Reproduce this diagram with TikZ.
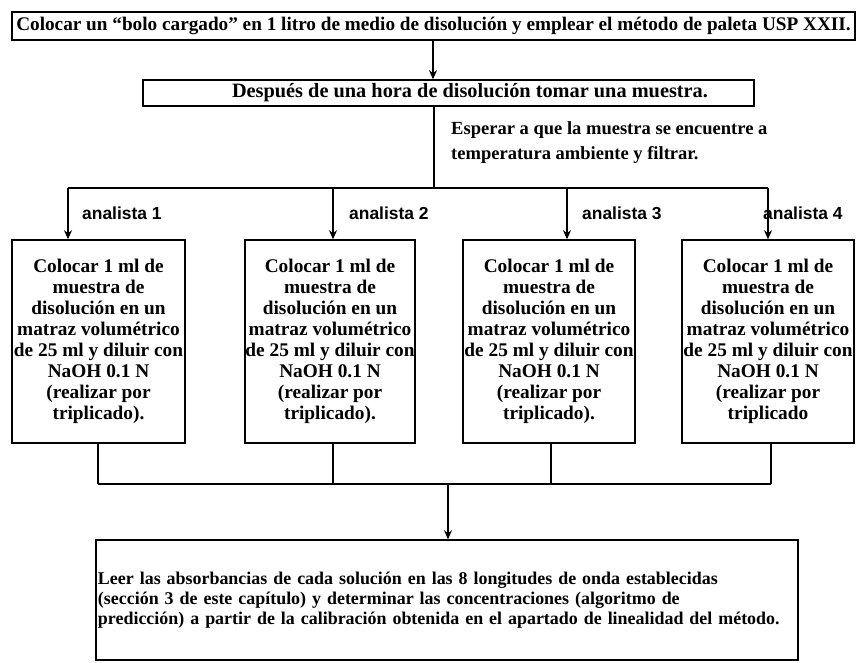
\documentclass[tikz,border=0pt]{standalone}
\usepackage{fontspec}
\setmainfont{Liberation Serif}
\newfontfamily\labsans{Liberation Sans}
\usetikzlibrary{arrows.meta}
\begin{document}
\begin{tikzpicture}[x=1bp,y=-1bp,
  box/.style={draw, line width=1.5bp, inner sep=0pt},
  stepbox/.style={box, font=\bfseries\fontsize{19.4}{21}\selectfont, minimum width=172bp, minimum height=203bp, align=center},
  conn/.style={line width=1.5bp},
  arr/.style={conn, -{Stealth[length=9bp,width=8bp]}},
  lab/.style={font=\labsans\bfseries\fontsize{17.5}{20}\selectfont, anchor=west, inner sep=0pt},
]
\useasboundingbox (0,0) rectangle (857,663);

\node[box, font=\bfseries\fontsize{19.3}{24}\selectfont, minimum width=843bp, minimum height=28bp] (top) at (433.5,26)
  {Colocar un “bolo cargado” en 1 litro de medio de disolución y emplear el método de paleta USP XXII.};
\node[box, font=\bfseries\fontsize{20.4}{24}\selectfont, minimum width=611bp, minimum height=26bp] (take) at (448.5,93)
  {\hspace*{43bp}Después de una hora de disolución tomar una muestra.};

\coordinate (a1) at (433,0);
\draw[arr] (top.south -| a1) -- (take.north -| a1);

\node[anchor=west, align=left, inner sep=0pt, font=\bfseries\fontsize{18.6}{25}\selectfont] (wait) at (451,143)
  {Esperar a que la muestra se encuentre a\\temperatura ambiente y filtrar.};

\coordinate (split) at (434,188);
\coordinate (t1) at (68,188);
\coordinate (t2) at (333,188);
\coordinate (t3) at (567,188);
\coordinate (t4) at (768,188);
\draw[conn] (split |- take.south) -- (split);
\draw[conn] (t1) -- (t4);

\node[lab] (l1) at (82,213) {analista 1};
\node[lab] (l2) at (349,213) {analista 2};
\node[lab] (l3) at (582,213) {analista 3};
\node[lab] (l4) at (763,213) {analista 4};

\node[stepbox, minimum width=173bp] (b1) at (98.5,341.5)
  {Colocar 1 ml de\\muestra de\\disolución en un\\matraz volumétrico\\de 25 ml y diluir con\\NaOH 0.1 N\\(realizar por\\triplicado).};
\node[stepbox, minimum width=170bp] (b2) at (330,341.5)
  {Colocar 1 ml de\\muestra de\\disolución en un\\matraz volumétrico\\de 25 ml y diluir con\\NaOH 0.1 N\\(realizar por\\triplicado).};
\node[stepbox] (b3) at (549,341.5)
  {Colocar 1 ml de\\muestra de\\disolución en un\\matraz volumétrico\\de 25 ml y diluir con\\NaOH 0.1 N\\(realizar por\\triplicado).};
\node[stepbox] (b4) at (768,341.5)
  {Colocar 1 ml de\\muestra de\\disolución en un\\matraz volumétrico\\de 25 ml y diluir con\\NaOH 0.1 N\\(realizar por\\triplicado};

\draw[arr] (t1) -- (t1 |- b1.north);
\draw[arr] (t2) -- (t2 |- b2.north);
\draw[arr] (t3) -- (t3 |- b3.north);
\draw[arr] (t4) -- (t4 |- b4.north);

\coordinate (u1) at (98,484);
\coordinate (u2) at (333,484);
\coordinate (u3) at (551,484);
\coordinate (u4) at (771,484);
\coordinate (m) at (448,484);
\draw[conn] (b1.south -| u1) -- (u1);
\draw[conn] (b2.south -| u2) -- (u2);
\draw[conn] (b3.south -| u3) -- (u3);
\draw[conn] (b4.south -| u4) -- (u4);
\draw[conn] (u1) -- (u4);

\node[box, minimum width=702bp, minimum height=120bp, text width=698bp, align=left,
      font=\bfseries\fontsize{18}{20}\selectfont] (res) at (447,600)
  {Leer las absorbancias de cada solución en las 8 longitudes de onda establecidas\\(sección 3 de este capítulo) y determinar las concentraciones (algoritmo de\\predicción) a partir de la calibración obtenida en el apartado de linealidad del método.};

\draw[arr] (m) -- (m |- res.north);
\end{tikzpicture}
\end{document}
